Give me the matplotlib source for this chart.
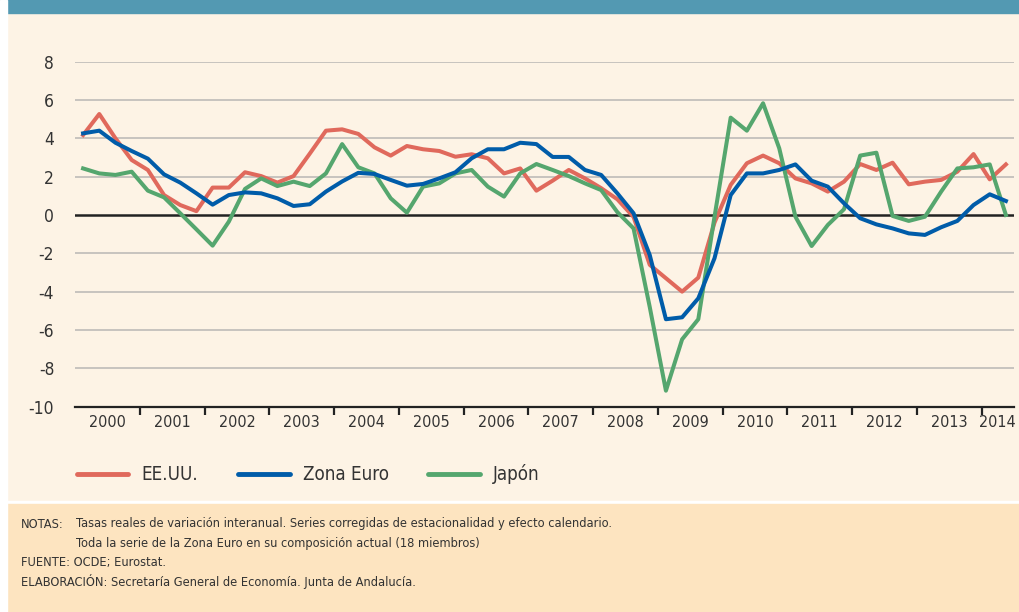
import matplotlib.pyplot as plt
import numpy as np
from matplotlib.patches import Rectangle
from matplotlib.lines import Line2D

# quarterly data, 2000Q1 - 2014Q2
years = [str(y) for y in range(2000, 2015)]
eeuu = [4.17, 5.27, 4.0, 2.87, 2.35, 1.04, 0.52, 0.2, 1.43, 1.43,
        2.23, 2.03, 1.69, 2.03, 3.2, 4.4, 4.47, 4.23, 3.53, 3.1,
        3.6, 3.43, 3.34, 3.04, 3.17, 2.96, 2.17, 2.43, 1.27, 1.79,
        2.35, 1.91, 1.4, 0.82, -0.1, -2.6, -3.3, -4.0, -3.27, -0.4,
        1.57, 2.7, 3.1, 2.7, 1.91, 1.65, 1.22, 1.74, 2.66, 2.35,
        2.73, 1.6, 1.74, 1.83, 2.26, 3.18, 1.86, 2.64]
zona_euro = [4.26, 4.4, 3.77, 3.34, 2.94, 2.12, 1.69, 1.13, 0.54, 1.04,
             1.18, 1.13, 0.87, 0.47, 0.56, 1.22, 1.75, 2.2, 2.14, 1.83,
             1.53, 1.62, 1.91, 2.23, 2.96, 3.43, 3.43, 3.77, 3.7, 3.03,
             3.03, 2.35, 2.09, 1.13, 0.09, -2.09, -5.44, -5.34, -4.35, -2.26,
             1.04, 2.17, 2.17, 2.35, 2.64, 1.79, 1.48, 0.61, -0.17, -0.49,
             -0.7, -0.96, -1.04, -0.64, -0.31, 0.52, 1.08, 0.73]
japon = [2.43, 2.17, 2.09, 2.26, 1.27, 0.92, 0.09, -0.75, -1.6, -0.35,
         1.36, 1.91, 1.51, 1.74, 1.51, 2.17, 3.7, 2.49, 2.17, 0.87,
         0.12, 1.48, 1.65, 2.17, 2.35, 1.48, 0.96, 2.17, 2.66, 2.35,
         2.03, 1.65, 1.3, 0.15, -0.7, -4.8, -9.17, -6.49, -5.44, -0.1,
         5.08, 4.4, 5.83, 3.48, -0.09, -1.62, -0.52, 0.3, 3.1, 3.25,
         -0.05, -0.31, -0.09, 1.22, 2.43, 2.49, 2.64, 0.0]

notes_head = ["NOTAS:", "", "", ""]
notes_body = ["Tasas reales de variación interanual. Series corregidas de estacionalidad y efecto calendario.",
              "Toda la serie de la Zona Euro en su composición actual (18 miembros)",
              "", ""]
notes_full = ["", "", "FUENTE: OCDE; Eurostat.",
              "ELABORACIÓN: Secretaría General de Economía. Junta de Andalucía."]

plt.rcParams['font.family'] = ['DejaVu Sans']
plt.rcParams['font.stretch'] = 'condensed'
plt.rcParams['axes.unicode_minus'] = False

red = '#E0695C'
blue = '#005CA9'
green = '#55A66E'
cream = '#FDF3E5'
txt = '#333333'

W, H = 1019, 612
fig = plt.figure(figsize=(W / 100, H / 100), dpi=100)
fig.patch.set_facecolor(cream)
fig.patches.append(Rectangle((0, 1 - 13 / H), 1, 13 / H, transform=fig.transFigure, color='#5399B2', zorder=0))
fig.patches.append(Rectangle((0, 1 - 504 / H), 1, 3 / H, transform=fig.transFigure, color='white', zorder=0))
fig.patches.append(Rectangle((0, 0), 1, 1 - 504 / H, transform=fig.transFigure, color='#FDE4C0', zorder=0))
fig.patches.append(Rectangle((0, 0), 7 / W, 1, transform=fig.transFigure, color='white', zorder=0))

ax = fig.add_axes([75 / W, 1 - 406.6 / H, 939 / W, (406.6 - 61.7) / H])
ax.set_facecolor(cream)
x = np.arange(len(eeuu))

for v in range(-8, 9, 2):
    if v != 0:
        ax.axhline(v, color='#C3C0BB', lw=1.3, zorder=1)
ax.axhline(0, color='#222222', lw=1.8, zorder=2)

ax.plot(x, eeuu, color=red, lw=2.9, zorder=3)
ax.plot(x, japon, color=green, lw=2.9, zorder=3)
ax.plot(x, zona_euro, color=blue, lw=2.9, zorder=4)

ax.set_xlim(-0.5, len(eeuu) - 0.5)
ax.set_ylim(-10, 8)
ax.set_yticks(range(-10, 9, 2))
ax.tick_params(axis='y', length=0, labelsize=12.5, labelcolor=txt, pad=15)

bounds = np.arange(3.5, len(eeuu) - 1, 4)
ax.set_xticks(bounds)
ax.set_xticklabels([])
ax.tick_params(axis='x', which='major', length=6, width=1.6, color='#222222', direction='out')
centers = [4 * i + 1.5 for i in range(14)] + [56.5]
ax.set_xticks(centers, minor=True)
ax.set_xticklabels(years, minor=True)
ax.tick_params(axis='x', which='minor', length=0, labelsize=11.5, labelcolor=txt, pad=6)

for s in ['top', 'right', 'left']:
    ax.spines[s].set_visible(False)
ax.spines['bottom'].set_color('#222222')
ax.spines['bottom'].set_linewidth(1.6)

# legend drawn by hand to match the spacing
leg_y = 1 - 474 / H
for (x0, x1, xt, c, lab) in [(77, 128, 141, red, 'EE.UU.'),
                             (238, 290, 303, blue, 'Zona Euro'),
                             (428, 480, 493, green, 'Japón')]:
    fig.add_artist(Line2D([x0 / W, x1 / W], [leg_y, leg_y], transform=fig.transFigure,
                          color=c, lw=3.5, solid_capstyle='round'))
    fig.text(xt / W, leg_y, lab, fontsize=13.5, color=txt, va='center', ha='left')

for k in range(4):
    yy = 1 - (527.5 + 19.4 * k) / H
    if notes_head[k]:
        fig.text(21 / W, yy, notes_head[k], fontsize=9.2, color=txt, va='baseline', ha='left')
    if notes_body[k]:
        fig.text(76 / W, yy, notes_body[k], fontsize=9.2, color=txt, va='baseline', ha='left')
    if notes_full[k]:
        fig.text(21 / W, yy, notes_full[k], fontsize=9.2, color=txt, va='baseline', ha='left')

plt.savefig('out.png', dpi=100, facecolor=fig.get_facecolor())
